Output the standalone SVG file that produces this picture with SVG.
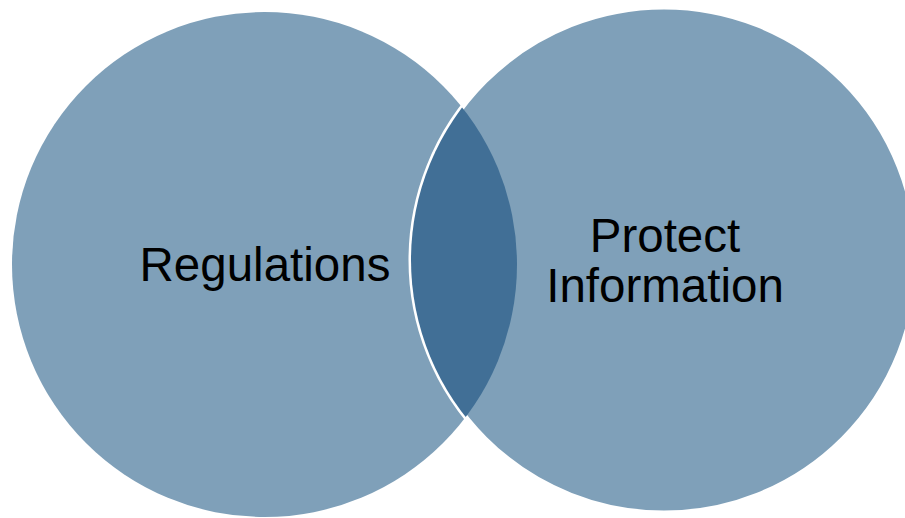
<svg xmlns="http://www.w3.org/2000/svg" width="905" height="518" viewBox="0 0 905 518">
  <style>
    .set { fill: #7fa0b9; }
    .set-right { fill: #7fa0b9; stroke: #ffffff; stroke-width: 5; }
    .overlap { fill: #416f96; }
    .label { font-family: "Liberation Sans", Arial, sans-serif; font-size: 47.5px; fill: #000000; text-anchor: middle; }
  </style>
  <defs>
    <clipPath id="clip-right">
      <circle cx="664" cy="260" r="253"/>
    </clipPath>
  </defs>
  <rect width="905" height="518" fill="#ffffff"/>
  <g id="node-regulations">
    <circle class="set" cx="264.5" cy="264.5" r="252.5"/>
  </g>
  <g id="node-protect-information">
    <circle class="set-right" cx="664" cy="260" r="253"/>
  </g>
  <!-- shared region of the two sets -->
  <g id="node-overlap">
    <circle class="overlap" cx="264.5" cy="264.5" r="252.5" clip-path="url(#clip-right)"/>
  </g>
  <g id="labels">
    <text class="label" x="265" y="281">Regulations</text>
    <text class="label" x="665" y="252">Protect</text>
    <text class="label" x="665" y="302">Information</text>
  </g>
</svg>
